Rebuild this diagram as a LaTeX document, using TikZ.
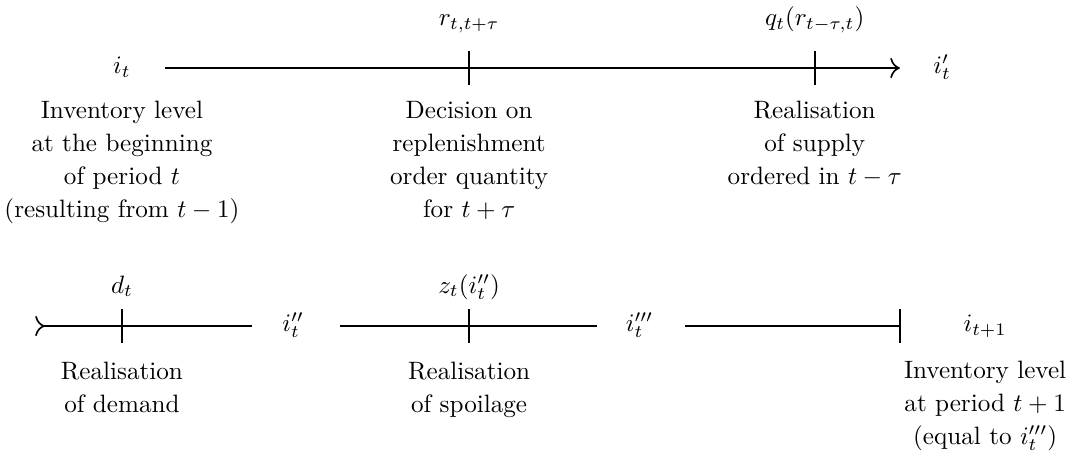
\documentclass[tikz,border=0pt]{standalone}
\usetikzlibrary{positioning,arrows.meta}
\begin{document}
\begin{tikzpicture}[>=to, semithick, font=\fontsize{10}{13.1}\selectfont,
    every node/.style={scale=0.915},
    txt/.style={align=center},
    lbl/.style={anchor=base}]
    \useasboundingbox (0,0) rectangle (13.66,5.77);

    % 1. Upper time line
    \node[anchor=mid] (it) at (1.56,4.90) {$i_t$};
    \coordinate (a1) at (2.11,4.90);
    \coordinate (t1) at (6.00,4.90);
    \coordinate (t2) at (10.42,4.90);
    \coordinate (a2) at (11.51,4.90);
    \node[anchor=mid] (it1) at (12.05,4.90) {$i'_t$};
    \draw[-{To[scale=1.2]}] (a1) -- (a2);

    % 2. Lower time line
    \coordinate (b0) at (0.45,1.60);
    \coordinate (t3) at (1.56,1.60);
    \coordinate (b1) at (3.22,1.60);
    \node[anchor=mid] (it2) at (3.75,1.60) {$i''_t$};
    \coordinate (b2) at (4.35,1.60);
    \coordinate (t4) at (6.00,1.60);
    \coordinate (b3) at (7.63,1.60);
    \node[anchor=mid] (it3) at (8.18,1.60) {$i'''_t$};
    \coordinate (b4) at (8.76,1.60);
    \coordinate (t5) at (11.51,1.60);
    \node[anchor=mid] (inext) at (12.60,1.60) {$i_{t+1}$};
    \coordinate (c5) at (12.60,1.60);
    \draw[{To[reversed,scale=1.2]}-] (b0) -- (b1);
    \draw (b2) -- (b3);
    \draw (b4) -- (t5);

    % 3. Ticks
    \foreach \c in {t1,t2,t3,t4,t5}
        \draw (\c) ++(0,0.215) -- ++(0,-0.43);

    % 4. Events above the ticks
    \node[above=0.54cm of t1, lbl] (r) {$r_{t,t+\tau}$};
    \node[above=0.54cm of t2, lbl] (q) {$q_t(r_{t-\tau,t})$};
    \node[above=0.42cm of t3, lbl] (d) {$d_t$};
    \node[above=0.42cm of t4, lbl] (z) {$z_t(i''_t)$};

    % 5. Descriptions
    \node[txt, below=0.31cm of it.mid] (inv) {Inventory level\\at the beginning\\of period $t$\\(resulting from $t-1$)};
    \node[txt, below=0.31cm of t1] (dec) {Decision on\\replenishment\\order quantity\\for $t+\tau$};
    \node[txt, below=0.31cm of t2] (sup) {Realisation\\of supply\\ordered in $t-\tau$};
    \node[txt, below=0.35cm of t3] (dem) {Realisation\\of demand};
    \node[txt, below=0.35cm of t4] (spo) {Realisation\\of spoilage};
    \node[txt, below=0.33cm of c5] (nxt) {Inventory level\\at period $t+1$\\(equal to $i'''_t$)};
\end{tikzpicture}
\end{document}
